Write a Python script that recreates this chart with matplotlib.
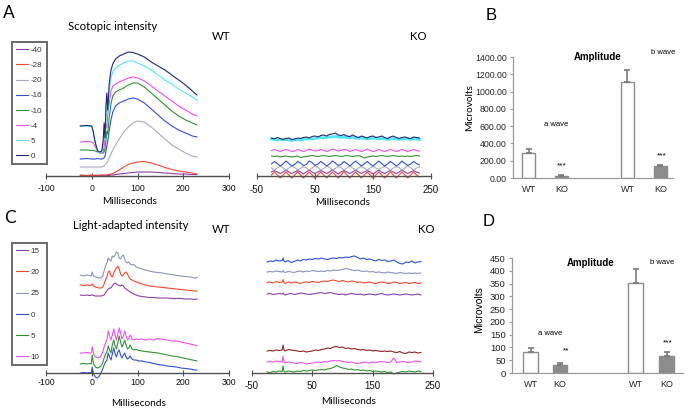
import matplotlib
matplotlib.use('Agg')
import matplotlib.pyplot as plt
import numpy as np

plt.rcParams['axes.unicode_minus'] = False
plt.rcParams['font.family'] = ['Liberation Sans', 'DejaVu Sans']

# ---------------- data: panel A (scotopic) ----------------
scot_labels = ['-40', '-28', '-20', '-16', '-10', '-4', '5', '0']

t_A = [-25, -10, 0, 3, 8, 13, 18, 22, 25, 27,
       29, 31, 33, 35, 38, 42, 46, 52, 60, 70,
       80, 90, 100, 115, 130, 145, 160, 175, 190, 205,
       220, 230]

wtA_m40 = [0.5, 0.5, 0.5, 0.5, 0.5, 0.5, 0.5, 0.5, 0.5, 0.5,
           0.5, 0.5, 0.5, 0.5, 0.5, 1, 1, 1.5, 2, 2.5,
           3, 3.5, 4, 4, 4, 3.5, 3, 2.5, 2, 2,
           1.5, 1.5]
wtA_m28 = [1, 0.5, 1, 0.5, 1, 0.5, 1, 1, 1, 1,
           1, 1, 1, 1.5, 1.5, 2, 2.5, 4, 6, 9,
           11.5, 13, 14, 14.5, 13, 11, 8.5, 6.5, 5, 4,
           3, 2]
wtA_m20 = [9, 9, 9, 9, 9, 9, 9, 9, 9.5, 10,
           11, 12, 13, 15, 18, 22, 26, 31, 37, 44,
           49, 53, 55, 54, 49, 43, 37, 31, 27, 23,
           20, 19]
wtA_m16 = [17, 17.5, 17, 17, 17, 17.5, 17, 17, 17.5, 18,
           20, 25, 30, 35, 45, 56, 64, 70, 73, 75,
           77, 78, 77, 73, 67, 61, 55, 50, 46, 43,
           40, 39]
wtA_m10 = [26, 26, 25.5, 25.5, 25, 24, 23, 23, 23, 24,
           28, 35, 45, 42, 58, 72, 80, 84, 86, 88,
           91, 93, 93, 89, 83, 77, 71, 65, 60, 56,
           53, 51]
wtA_m4 = [34, 34.5, 34, 33, 29, 25, 23, 23, 24, 30,
          40, 52, 48, 62, 72, 85, 90, 92, 94, 96,
          98, 99, 98, 95, 90, 85, 80, 75, 70, 66,
          62, 60]
wtA_p5 = [50, 50, 49.5, 44, 32, 24, 23, 24, 30, 42,
          36, 58, 72, 62, 85, 98, 104, 108, 111, 113,
          115, 115, 113, 110, 106, 101, 96, 92, 87, 83,
          79, 76]
wtA_0 = [50, 50.5, 50, 45, 33, 25, 24, 25, 36, 53,
         38, 70, 83, 66, 92, 106, 112, 117, 120, 122,
         124, 123.5, 122, 119, 114, 110, 106, 101, 96, 91,
         85, 81]

t_KA = [-25, -20, -15, -10, -5, 0, 5, 10, 15, 20,
        25, 30, 35, 40, 45, 50, 55, 60, 65, 70,
        75, 80, 85, 90, 95, 100, 105, 110, 115, 120,
        125, 130, 135, 140, 145, 150, 155, 160, 165, 170,
        175, 180, 185, 190, 195, 200, 205, 210, 215, 220,
        225, 230]

koA_m40 = [4, 5.5, 4, 2.5, 4, 6, 4, 2.5, 4, 5.5,
           4, 2, 4, 6, 4, 2.5, 4, 5.5, 4, 2.5,
           4, 6, 4, 2, 4, 5.5, 4, 2.5, 4, 6,
           4, 2.5, 4, 5.5, 4, 2, 4, 6, 4, 2.5,
           4, 5.5, 4, 2.5, 4, 6, 4, 2.5, 4, 5.5,
           4, 3]
koA_m28 = [1, 4, 1, -2, 1, 4, 1, -2, 1, 4.5,
           1, -2, 1, 4, 1, -2.5, 1, 4, 1, -2,
           1, 4, 1, -2, 1, 4.5, 1, -2, 1, 4,
           1, -2, 1, 4, 1, -2.5, 1, 4, 1, -2,
           1, 4, 1, -2, 1, 4, 1, -2, 1, 4,
           1, -1]
koA_m20 = [8, 6, 8, 10, 8, 6, 8, 10, 8.5, 6,
           7.5, 9.5, 8, 6, 8, 10, 8.5, 6, 7.5, 10,
           8.5, 6, 7.5, 9.5, 8.5, 6, 8, 10, 8, 6,
           8, 9.5, 8, 6, 8, 10, 8, 6.5, 8, 10,
           8, 6, 8, 9.5, 8.5, 6, 8, 10, 8, 6,
           8, 9]
koA_m16 = [12, 14.5, 12.5, 10, 12, 15, 12.5, 10, 11.5, 14.5,
           13, 10.5, 11.5, 15, 13.5, 10.5, 12, 14.5, 12.5, 10,
           12, 15, 13, 10.5, 11.5, 14.5, 12.5, 10, 12.5, 15,
           12.5, 10, 12, 14.5, 12, 10, 12.5, 15, 12.5, 10,
           12, 14.5, 12.5, 10, 12, 15, 12.5, 10.5, 12, 14.5,
           12.5, 11]
koA_m10 = [20, 19.5, 20, 19, 19.5, 20, 19.5, 19, 19.5, 20,
           18.5, 19, 19.5, 20, 20.5, 20, 19.5, 20, 20.5, 20,
           19.5, 20, 20.5, 20, 19.5, 20, 20.5, 20, 19.5, 20,
           20.5, 19.5, 18, 19, 19.5, 20, 19.5, 20, 20.5, 20,
           19.5, 20, 20.5, 20, 19.5, 20, 19.5, 20, 19.5, 20,
           20.5, 20]
koA_m4 = [25.5, 26.5, 25.5, 24.5, 25.5, 26.5, 25.5, 24.5, 25, 26.5,
          25.5, 24.5, 25.5, 27, 26, 25, 25.5, 26.5, 25.5, 24.5,
          25.5, 27, 26, 25, 25.5, 26.5, 26, 24.5, 25.5, 26.5,
          25.5, 24.5, 25.5, 27, 25.5, 24.5, 25, 26.5, 25.5, 24.5,
          25.5, 26.5, 25.5, 24.5, 25.5, 26.5, 25.5, 24.5, 25.5, 26.5,
          25.5, 25]
koA_p5 = [37, 36.5, 36, 36.5, 36, 36.5, 36, 35.5, 36, 36.5,
          36, 36.5, 37, 37.5, 37, 37.5, 38, 38.5, 38, 38.5,
          39, 39, 39.5, 39, 38.5, 39, 38.5, 38, 38.5, 38,
          37.5, 38, 37.5, 37, 37.5, 38, 37.5, 37, 37.5, 37,
          36.5, 37, 37.5, 37, 36.5, 37, 37.5, 37, 36.5, 37,
          37, 36.5]
koA_0 = [38, 37, 38.5, 37.5, 36.5, 37.5, 38, 36.5, 37, 38,
         37.5, 38.5, 39, 38, 39.5, 40, 39, 40.5, 41, 40,
         41.5, 42, 43, 41, 40.5, 41.5, 40, 39.5, 41, 39.5,
         38.5, 40, 39, 38, 39.5, 40, 38.5, 39, 40, 38.5,
         37.5, 39, 40, 38.5, 37.5, 38.5, 39, 38, 37.5, 39,
         38.5, 38]

# ---------------- data: panel C (light-adapted) ----------------
light_labels = ['15', '20', '25', '0', '5', '10']

t_C = [-25, -18, -11, -4, -1, 1, 4, 8, 12, 16,
       20, 24, 27, 30, 33, 36, 39, 42, 45, 48,
       51, 54, 57, 60, 63, 66, 69, 72, 75, 78,
       81, 84, 88, 92, 97, 103, 110, 118, 126, 135,
       145, 155, 165, 175, 185, 195, 205, 215, 225, 230]

wtC_15 = [78, 77.5, 78, 77.5, 78, 78, 77.5, 77, 77, 77,
          77, 77.5, 78, 80, 82, 84, 85, 85, 87, 89,
          90, 89, 88, 87.5, 87, 88, 87, 85, 84, 83,
          82, 81, 80, 79, 78, 77, 76.5, 76, 75.5, 75.5,
          75, 75, 75, 74.5, 74.5, 74.5, 74, 74, 73.5, 74]
wtC_20 = [88, 87.5, 88, 87.5, 88, 89, 87, 86, 85.5, 85,
          85, 86, 89, 93, 96, 101, 102, 97, 96, 100,
          103, 105, 107, 104, 99, 97, 98, 100, 101, 99,
          96, 94, 93, 92, 91, 90, 89, 88, 87, 86.5,
          86, 85.5, 85, 84.5, 84, 83.5, 83, 82.5, 82, 82]
wtC_25 = [98, 97, 98, 97.5, 97, 101, 97, 96, 95.5, 95,
          95, 97, 102, 107, 110, 115, 113, 112, 117, 116,
          118, 121, 120, 115, 114, 117, 118, 114, 111, 110,
          111, 109, 108, 108.5, 106, 105, 104, 103, 102, 101,
          100.5, 100, 99, 98.5, 97.5, 97, 96.5, 96, 95, 95.5]
wtC_0 = [0, 0.5, 0, 0.5, 0, 6, -1, -4, -5, -3.5,
         0, 4, 8, 11, 13, 20, 16, 13, 19, 25,
         19, 16, 21, 23, 18, 15, 18, 20, 16, 14,
         15, 17, 14, 13, 13, 12, 12, 11, 10.5, 9.5,
         8.5, 8, 7, 6.5, 6, 5, 4.5, 4, 3, 3]
wtC_5 = [9, 9.5, 9, 9.5, 9, 18, 9, 6, 5, 5.5,
         7, 10, 15, 19, 21, 27, 23, 20, 28, 33,
         27, 24, 30, 37, 31, 26, 29, 33, 28, 24,
         25, 28, 24, 23, 23.5, 22.5, 22, 21.5, 21, 20.5,
         20, 19, 18, 17, 16.5, 15.5, 14.5, 13.5, 12.5, 12]
wtC_10 = [20, 20, 20.5, 20, 20, 26, 19, 16, 15, 15.5,
          17, 21, 26, 30, 33, 42, 37, 33, 38, 44,
          38, 33, 39, 45, 40, 34, 37, 42, 37, 33,
          35, 38, 34, 33, 34, 33.5, 34, 33, 34, 33,
          34.5, 33.5, 33, 32, 32, 31, 30, 29, 28, 27]

t_KC = [-25, -20, -15, -10, -5, 0, 1.5, 3, 5, 10,
        15, 20, 25, 30, 35, 40, 45, 50, 55, 60,
        65, 70, 75, 80, 85, 90, 95, 100, 105, 110,
        115, 120, 125, 130, 135, 140, 145, 150, 155, 160,
        165, 170, 175, 180, 185, 190, 195, 200, 205, 210,
        215, 220, 225, 230]

koC_blue = [111, 112, 111.5, 113, 112, 112.5, 115, 112, 111, 112.5,
            110.5, 111.5, 113, 112, 113.5, 113, 114, 113.5, 114.5, 114,
            115, 114, 113.5, 114.5, 115, 114.5, 115.5, 115, 116, 115.5,
            116.5, 117, 115.5, 114, 115, 113.5, 114, 113, 112, 113.5,
            112.5, 113, 111.5, 112, 113, 111, 109.5, 109, 111, 110.5,
            112, 110, 111, 111.5]
koC_gray = [101, 101.5, 101, 102, 101.5, 101, 102.5, 101, 100.5, 101.5,
            101, 100.5, 101.5, 102, 101, 102, 101.5, 102.5, 102, 101.5,
            102, 101.5, 102.5, 102, 103, 102.5, 103, 103.5, 104.5, 104,
            103, 102.5, 103, 102, 101.5, 102, 101, 101.5, 100.5, 101,
            100.5, 100, 101, 100.5, 100, 99.5, 100.5, 100, 99.5, 100,
            99.5, 100, 99.5, 100]
koC_red = [90.5, 91, 90, 91.5, 90.5, 91, 93.5, 90.5, 89.5, 91,
           90, 91, 90.5, 89.5, 90.5, 91, 90.5, 91.5, 91, 90.5,
           91.5, 92, 91.5, 92.5, 93, 92, 91.5, 92.5, 91.5, 91,
           92, 91.5, 90.5, 91, 90, 90.5, 91, 90, 89.5, 90.5,
           91, 90.5, 89.5, 90, 91, 90.5, 89.5, 90, 90.5, 89.5,
           90, 90.5, 89.5, 90]
koC_purple = [79, 79.5, 78.5, 79, 79.5, 79, 80, 78.5, 78, 79,
              79.5, 78.5, 79, 80, 79.5, 79, 78.5, 79, 79.5, 80,
              80.5, 79.5, 80, 80.5, 79.5, 79, 78.5, 79, 78, 79,
              79.5, 79, 78.5, 79, 78, 78.5, 79, 78.5, 78, 79,
              79.5, 78.5, 78, 78.5, 79, 78.5, 78, 78.5, 79, 78.5,
              78, 78.5, 79, 78]
koC_brown = [22, 22.5, 22, 23, 22.5, 23, 28, 23, 22, 23.5,
             23, 22.5, 22, 21.5, 22, 21, 21.5, 22, 23, 22.5,
             23.5, 24, 25, 24.5, 26, 26.5, 25.5, 26, 24.5, 25,
             24, 24.5, 23.5, 23, 23.5, 22.5, 23, 22, 22.5, 22,
             21.5, 22, 21.5, 22, 21, 20.5, 21.5, 20, 19.5, 21,
             20.5, 21, 20, 20.5]
koC_magenta = [11, 11.5, 11, 12, 11.5, 11, 17, 11, 10, 11,
               10.5, 10, 9.5, 10.5, 10, 9, 9.5, 10, 10.5, 11,
               10.5, 11.5, 11, 12, 12.5, 12, 12.5, 11.5, 11, 10.5,
               11, 10, 9.5, 10, 11, 10.5, 10, 11, 10.5, 11,
               11.5, 11, 10.5, 11, 15, 10.5, 11, 11.5, 11, 10.5,
               11, 12, 11.5, 11]
koC_green = [1, 0.5, 1.5, 1, 2, 1.5, 7, 1.5, 1, 2,
             1.5, 1, 2, 1.5, 2.5, 2, 2.5, 3, 2.5, 3,
             3.5, 3, 4, 4.5, 5.5, 7.5, 6, 5, 4.5, 3.5,
             4, 3, 3.5, 2.5, 3, 2, 2.5, 1.5, 2, 1.5,
             1, 1.5, 0.5, 1, -1, 0, 1, 1.5, 1, 2,
             1.5, 1, 2, 1.5]

# ---------------- data: amplitude bars ----------------
bar_groups = ['WT', 'KO', 'WT', 'KO']
B_vals = [295, 28, 1110, 142]
B_err = [38, 8, 135, 12]
B_stars = ['', '***', '', '***']
D_vals = [82, 31, 352, 68]
D_err = [16, 8, 55, 13]
D_stars = ['', '**', '', '***']

# ---------------- colours ----------------
c_purple = '#8E3FA6'
c_red = '#F2492E'
c_gray = '#A9A9C2'
c_slate = '#8C92BC'
c_blue = '#3050DA'
c_green = '#2E952E'
c_magenta = '#F04FF0'
c_cyan = '#55E6F2'
c_navy = '#1E2878'
c_brown = '#8E2222'
c_bar = '#8C8C8C'

W, H = 689, 411
fig = plt.figure(figsize=(W / 100, H / 100), dpi=100)


def px_axes(x0, y0, x1, y1):
    return fig.add_axes([x0 / W, 1 - y1 / H, (x1 - x0) / W, (y1 - y0) / H])


def ftext(x, y, s, **kw):
    ha = kw.pop('ha', 'center')
    va = kw.pop('va', 'center')
    fig.text(x / W, 1 - y / H, s, ha=ha, va=va, **kw)


def trace_axes(ax, xlim, xticks, ymax, labsize, pad):
    ax.set_xlim(*xlim)
    ax.set_ylim(0, ymax)
    for s in ['left', 'right', 'top']:
        ax.spines[s].set_visible(False)
    ax.spines['bottom'].set_color('#505050')
    ax.spines['bottom'].set_linewidth(1.0)
    ax.set_yticks([])
    ax.set_xticks(xticks)
    ax.tick_params(axis='x', direction='inout', length=4, width=0.8,
                   color='#505050', labelsize=labsize, pad=pad, labelcolor='#111111')
    ax.patch.set_alpha(0)


def legend_box(ax, handles, labels, x0, y0, x1, y1, spacing):
    leg = ax.legend(handles, labels, loc='upper left',
                    bbox_to_anchor=(x0 / W, 1 - y1 / H, (x1 - x0) / W, (y1 - y0) / H),
                    bbox_transform=fig.transFigure, mode='expand', borderaxespad=0,
                    fontsize=5.8, labelspacing=spacing, handlelength=1.4,
                    handletextpad=0.35, borderpad=0.55, fancybox=False, framealpha=1)
    leg.get_frame().set_edgecolor('#6A6A6A')
    leg.get_frame().set_linewidth(1.4)
    for txt in leg.get_texts():
        txt.set_color('#333333')
    return leg


LW = 0.8
title_font = ['Lato', 'DejaVu Sans']

# ---------------- Panel A WT ----------------
axA = px_axes(46, 40, 229, 176)
trace_axes(axA, (-100, 300), [-100, 0, 100, 200, 300], 136, 6.3, 3.5)
series_A = [(wtA_m40, c_purple), (wtA_m28, c_red), (wtA_m20, c_gray), (wtA_m16, c_blue),
            (wtA_m10, c_green), (wtA_m4, c_magenta), (wtA_p5, c_cyan), (wtA_0, c_navy)]
hA = []
for vals, col in series_A:
    ln, = axA.plot(t_A, vals, color=col, lw=LW, clip_on=False)
    hA.append(ln)
legend_box(axA, hA, scot_labels, 12, 42, 47, 167, 0.93)

# ---------------- Panel A KO ----------------
axAK = px_axes(257, 40, 431, 176)
trace_axes(axAK, (-50, 250), [-50, 50, 150, 250], 136, 7, 4.5)
axAK.plot(t_KA, koA_p5, color=c_cyan, lw=2.0, clip_on=False)
for vals, col in [(koA_m40, c_purple), (koA_m20, c_gray), (koA_m16, c_blue),
                  (koA_m10, c_green), (koA_m4, c_magenta), (koA_m28, c_red), (koA_0, c_navy)]:
    axAK.plot(t_KA, vals, color=col, lw=LW, clip_on=False)

# ---------------- Panel C WT ----------------
axC = px_axes(46, 240, 229, 373)
trace_axes(axC, (-100, 300), [-100, 0, 100, 200, 300], 133, 6.3, 1.5)
series_C = [(wtC_15, c_purple), (wtC_20, c_red), (wtC_25, c_slate),
            (wtC_0, c_blue), (wtC_5, c_green), (wtC_10, c_magenta)]
hC = []
for vals, col in series_C:
    ln, = axC.plot(t_C, vals, color=col, lw=LW, clip_on=False)
    hC.append(ln)
legend_box(axC, hC, light_labels, 12, 243, 47, 368, 1.68)

# ---------------- Panel C KO ----------------
axCK = px_axes(252, 240, 433, 373)
trace_axes(axCK, (-50, 250), [-50, 50, 150, 250], 133, 7, 4)
for vals, col in [(koC_blue, c_blue), (koC_gray, c_slate), (koC_red, c_red),
                  (koC_purple, c_purple), (koC_brown, c_brown),
                  (koC_magenta, c_magenta), (koC_green, c_green)]:
    axCK.plot(t_KC, vals, color=col, lw=LW, clip_on=False)


# ---------------- bar panels ----------------
def bar_panel(ax, pos, vals, errs, width, ylim, yticks, fmt, labsize):
    cols = ['white' if g == 'WT' else c_bar for g in bar_groups]
    ax.bar(pos, vals, width=width, color=cols, edgecolor=c_bar, linewidth=1.0, zorder=2)
    ax.errorbar(pos, vals, yerr=[np.zeros(len(vals)), errs], fmt='none', ecolor='#7A7A7A',
                elinewidth=1.2, capsize=2.3, capthick=1.2, zorder=3)
    ax.set_ylim(*ylim)
    ax.set_yticks(yticks)
    ax.set_yticklabels([fmt % v for v in yticks])
    ax.set_xticks(pos)
    ax.set_xticklabels(bar_groups)
    for s in ['right', 'top']:
        ax.spines[s].set_visible(False)
    for s in ['left', 'bottom']:
        ax.spines[s].set_color('#9A9A9A')
        ax.spines[s].set_linewidth(0.9)
    ax.tick_params(axis='y', direction='out', length=2.5, width=0.8, color='#9A9A9A',
                   labelsize=labsize, pad=2, labelcolor='#222222')
    ax.tick_params(axis='x', length=0, labelsize=6.5, pad=5, labelcolor='#222222')
    ax.patch.set_alpha(0)


axB = px_axes(513, 57, 673, 178)
posB = [0, 1, 3, 4]
axB.set_xlim(-0.47, 4.38)
bar_panel(axB, posB, B_vals, B_err, 0.39, (0, 1400), list(range(0, 1401, 200)), '%.2f', 6.3)

axD = px_axes(512, 258, 683, 373)
posD = [0, 0.95, 3.4, 4.4]
axD.set_xlim(-0.6, 4.93)
bar_panel(axD, posD, D_vals, D_err, 0.48, (0, 450), list(range(0, 451, 50)), '%d', 6.8)

# ---------------- texts ----------------
ftext(9, 12.5, 'A', fontsize=12.5, family=title_font)
ftext(113, 26.5, 'Scotopic intensity', fontsize=8.2, family=title_font)
ftext(221.5, 36, 'WT', fontsize=8.2, family=title_font)
ftext(418.5, 36, 'KO', fontsize=8.2, family=title_font)
ftext(130, 201, 'Milliseconds', fontsize=7.3, family=title_font)
ftext(342.5, 202.5, 'Milliseconds', fontsize=7.3, family=title_font)

ftext(10, 217.5, 'C', fontsize=12.5, family=title_font)
ftext(131, 225, 'Light-adapted intensity', fontsize=8.2, family=title_font)
ftext(221.5, 229, 'WT', fontsize=8.2, family=title_font)
ftext(426, 229, 'KO', fontsize=8.2, family=title_font)
ftext(139, 403, 'Milliseconds', fontsize=7.3, family=title_font)
ftext(349, 401, 'Milliseconds', fontsize=7.3, family=title_font)

ftext(491, 15, 'B', fontsize=12)
ftext(598, 56.5, 'Amplitude', fontsize=7, fontweight='bold')
ftext(663, 53, 'b wave', fontsize=5.5)
ftext(556, 124, 'a wave', fontsize=5.5)
ftext(469.5, 108, 'Microvolts', fontsize=7.2, rotation=90, family=title_font)
ftext(562, 166, B_stars[1], fontsize=6)
ftext(662, 156, B_stars[3], fontsize=6)

ftext(489, 221, 'D', fontsize=12)
ftext(591, 263, 'Amplitude', fontsize=7, fontweight='bold')
ftext(662, 262, 'b wave', fontsize=5.5)
ftext(550, 333, 'a wave', fontsize=5.5)
ftext(479, 310, 'Microvolts', fontsize=7.5, rotation=90)
ftext(566, 351, D_stars[1], fontsize=6)
ftext(668, 343, D_stars[3], fontsize=6)

fig.savefig('out.png', dpi=100)
